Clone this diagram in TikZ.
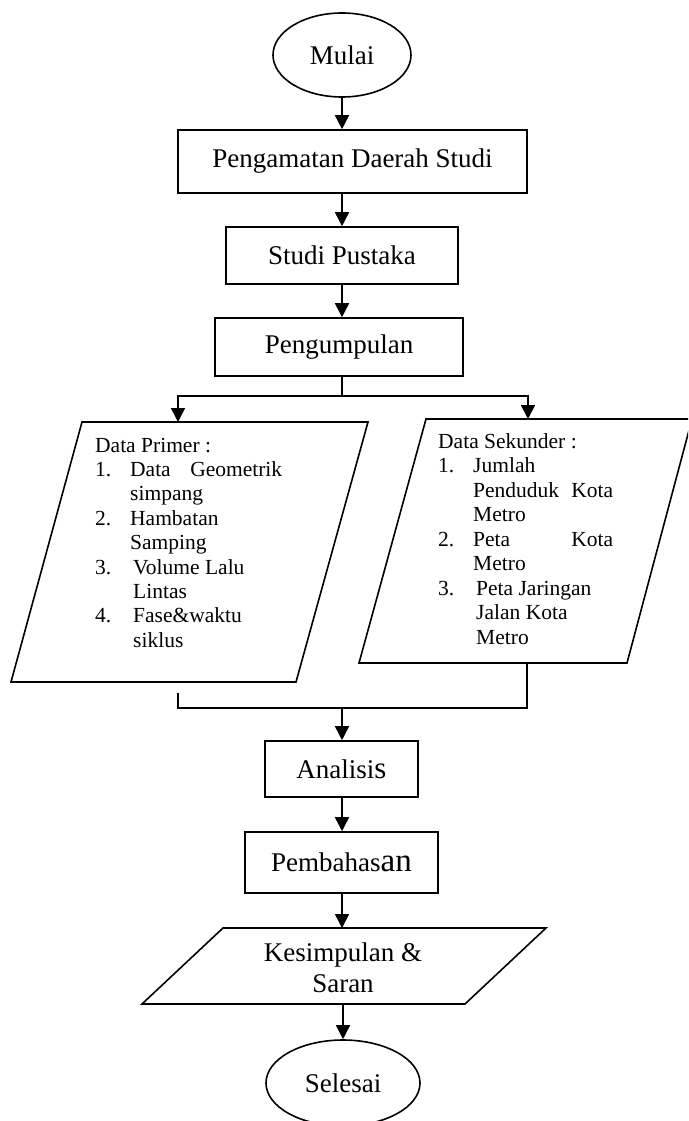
\documentclass[tikz,border=0pt]{standalone}
\usepackage{fontspec}
\setmainfont{Liberation Serif}
\usetikzlibrary{arrows.meta,shapes.geometric}
\begin{document}
\begin{tikzpicture}[x=1pt,y=-1pt,
  ln/.style={line width=1.6pt},
  arr/.style={ln,-{Triangle[length=14pt,width=14pt]}},
  boxnode/.style={draw,ln,rectangle,inner sep=0pt,font=\fontsize{27}{31}\selectfont},
  ellnode/.style={draw,ln,ellipse,inner sep=0pt,font=\fontsize{27}{31}\selectfont},
  lt/.style={anchor=base west,inner sep=0pt,font=\fontsize{21.5}{24}\selectfont}]
\useasboundingbox (0,0) rectangle (688,1121);
\clip (0,0) rectangle (688,1121);
% main nodes
\node[ellnode,minimum width=138pt,minimum height=84pt] (mulai) at (342,55) {Mulai};
\node[boxnode,minimum width=349pt,minimum height=63pt] (peng) at (352.5,161.5) {Pengamatan Daerah Studi};
\node[boxnode,minimum width=232pt,minimum height=57pt] (studi) at (342,255.5) {Studi Pustaka};
\node[boxnode,minimum width=248pt,minimum height=58pt] (kumpul) at (339,347) {Pengumpulan};
\node[boxnode,minimum width=153pt,minimum height=56pt] (anal) at (341.5,769) {Analisi{\fontsize{31}{31}\selectfont s}};
\node[boxnode,minimum width=193pt,minimum height=61pt] (bahas) at (341.5,862.5) {Pembahas{\fontsize{33}{33}\selectfont an}};
\node[ellnode,minimum width=154pt,minimum height=86pt] (selesai) at (343,1083) {Selesai};
% parallelograms
\draw[ln] (82,422) -- (368,422) -- (296,682) -- (11,682) -- cycle;
\draw[ln] (426,419) -- (692,419) -- (627,663) -- (359,663) -- cycle;
\draw[ln] (223,928) -- (546,928) -- (465,1004) -- (142,1004) -- cycle;
\node[align=center,inner sep=0pt,font=\fontsize{27}{31}\selectfont] (kes) at (343,968) {Kesimpulan \&\\Saran};
% coordinates
\coordinate (split) at (342,396);
\coordinate (ptop) at (178,422);
\coordinate (stop) at (528,419);
\coordinate (pbot) at (178,693);
\coordinate (mL) at (178,708);
\coordinate (mR) at (527,708);
\coordinate (sbot) at (527,663);
\coordinate (merge) at (342,708);
\coordinate (kt) at (342,928);
\coordinate (kb) at (343,1004);
% left text
\node[lt] (p0) at (95,452) {Data Primer :};
\node[lt] (p1n) at (95,476.4) {1.};
\node[lt] (p1) at (130,476.4) {\makebox[152pt][s]{Data Geometrik}};
\node[lt] (p1b) at (130,500.8) {simpang};
\node[lt] (p2n) at (95,525.2) {2.};
\node[lt] (p2) at (130,525.2) {Hambatan};
\node[lt] (p2b) at (130,549.6) {Samping};
\node[lt] (p3n) at (95,574) {3.};
\node[lt] (p3) at (133,574) {Volume Lalu};
\node[lt] (p3b) at (133,598.4) {Lintas};
\node[lt] (p4n) at (95,622.8) {4.};
\node[lt] (p4) at (133,622.8) {Fase\&waktu};
\node[lt] (p4b) at (133,647.2) {siklus};
% right text
\node[lt] (s0) at (438,448) {Data Sekunder :};
\node[lt] (s1n) at (438,472.5) {1.};
\node[lt] (s1) at (473,472.5) {Jumlah};
\node[lt] (s1b) at (473,497) {\makebox[140pt][s]{Penduduk Kota}};
\node[lt] (s1c) at (473,521.5) {Metro};
\node[lt] (s2n) at (438,546) {2.};
\node[lt] (s2) at (473,546) {\makebox[140pt][s]{Peta Kota}};
\node[lt] (s2b) at (473,570.5) {Metro};
\node[lt] (s3n) at (438,595) {3.};
\node[lt] (s3) at (476,595) {Peta Jaringan};
\node[lt] (s3b) at (476,619.5) {Jalan Kota};
\node[lt] (s3c) at (476,644) {Metro};
% connectors
\draw[arr] (mulai.south) -- (mulai.south |- peng.north);
\draw[arr] (studi.north |- peng.south) -- (studi.north);
\draw[arr] (studi.south) -- (studi.south |- kumpul.north);
\draw[ln] (split |- kumpul.south) -- (split);
\draw[arr] (split) -| (ptop);
\draw[arr] (split) -| (stop);
\draw[ln] (pbot) -- (mL) -- (mR) -- (sbot);
\draw[arr] (merge) -- (merge |- anal.north);
\draw[arr] (merge |- anal.south) -- (merge |- bahas.north);
\draw[arr] (merge |- bahas.south) -- (kt);
\draw[arr] (kb) -- (selesai.north);
\end{tikzpicture}
\end{document}
